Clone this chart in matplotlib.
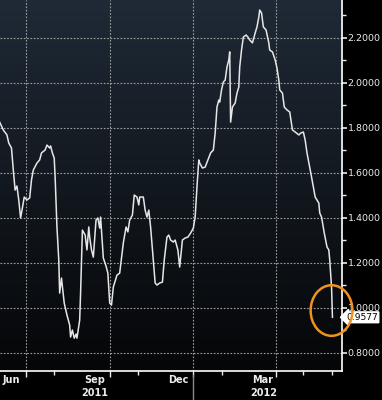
import numpy as np
import pandas as pd
import matplotlib
matplotlib.use("Agg")
import matplotlib.pyplot as plt
import matplotlib.dates as mdates
from matplotlib.patches import Ellipse
from matplotlib.transforms import blended_transform_factory

# price series
dates = [
    "2011-06-02", "2011-06-06", "2011-06-10", "2011-06-12", "2011-06-15", "2011-06-17",
    "2011-06-19", "2011-06-21", "2011-06-23", "2011-06-25", "2011-06-27", "2011-06-29",
    "2011-07-02", "2011-07-05", "2011-07-07", "2011-07-09", "2011-07-13", "2011-07-16",
    "2011-07-18", "2011-07-22", "2011-07-24", "2011-07-27", "2011-07-28", "2011-07-30",
    "2011-08-01", "2011-08-02", "2011-08-04", "2011-08-06", "2011-08-07", "2011-08-09",
    "2011-08-12", "2011-08-15", "2011-08-18", "2011-08-19", "2011-08-21", "2011-08-23",
    "2011-08-25", "2011-08-26", "2011-08-29", "2011-08-30", "2011-08-31", "2011-09-01",
    "2011-09-04", "2011-09-06", "2011-09-08", "2011-09-09", "2011-09-11", "2011-09-13",
    "2011-09-16", "2011-09-18", "2011-09-20", "2011-09-21", "2011-09-24", "2011-09-27",
    "2011-09-29", "2011-10-01", "2011-10-03", "2011-10-05", "2011-10-09", "2011-10-12",
    "2011-10-14", "2011-10-16", "2011-10-19", "2011-10-21", "2011-10-23", "2011-10-26",
    "2011-10-28", "2011-10-31", "2011-11-02", "2011-11-03", "2011-11-07", "2011-11-09",
    "2011-11-11", "2011-11-13", "2011-11-15", "2011-11-18", "2011-11-20", "2011-11-22",
    "2011-11-25", "2011-11-28", "2011-11-30", "2011-12-03", "2011-12-05", "2011-12-07",
    "2011-12-10", "2011-12-12", "2011-12-15", "2011-12-17", "2011-12-20", "2011-12-23",
    "2011-12-26", "2011-12-29", "2012-01-01", "2012-01-03", "2012-01-05", "2012-01-07",
    "2012-01-08", "2012-01-11", "2012-01-14", "2012-01-17", "2012-01-20", "2012-01-23",
    "2012-01-25", "2012-01-27", "2012-01-29", "2012-01-30", "2012-02-01", "2012-02-03",
    "2012-02-05", "2012-02-07", "2012-02-09", "2012-02-10", "2012-02-11", "2012-02-13",
    "2012-02-16", "2012-02-18", "2012-02-20", "2012-02-21", "2012-02-23", "2012-02-25",
    "2012-02-28", "2012-03-01", "2012-03-03", "2012-03-06", "2012-03-09", "2012-03-11",
    "2012-03-13", "2012-03-14", "2012-03-16", "2012-03-18", "2012-03-21", "2012-03-24",
    "2012-03-25", "2012-03-28", "2012-03-31", "2012-04-02", "2012-04-04", "2012-04-05",
    "2012-04-08", "2012-04-10", "2012-04-13", "2012-04-16", "2012-04-19", "2012-04-22",
    "2012-04-26", "2012-04-28", "2012-05-01", "2012-05-03", "2012-05-05", "2012-05-08",
    "2012-05-10", "2012-05-12", "2012-05-14", "2012-05-18", "2012-05-19", "2012-05-21",
    "2012-05-24", "2012-05-27", "2012-05-29", "2012-05-30", "2012-06-01", "2012-06-02",
]
values = [
    1.825, 1.790, 1.768, 1.732, 1.710, 1.612,
    1.523, 1.541, 1.479, 1.399, 1.443, 1.492,
    1.479, 1.488, 1.568, 1.612, 1.643, 1.657,
    1.688, 1.701, 1.723, 1.710, 1.719, 1.688,
    1.665, 1.581, 1.359, 1.212, 1.065, 1.132,
    1.021, 0.968, 0.923, 0.870, 0.901, 0.865,
    0.883, 0.865, 0.945, 1.065, 1.212, 1.345,
    1.323, 1.257, 1.359, 1.314, 1.257, 1.225,
    1.390, 1.399, 1.354, 1.403, 1.221, 1.185,
    1.154, 1.021, 1.012, 1.092, 1.145, 1.154,
    1.221, 1.288, 1.359, 1.337, 1.390, 1.412,
    1.501, 1.492, 1.457, 1.492, 1.492, 1.434,
    1.403, 1.434, 1.359, 1.212, 1.110, 1.101,
    1.110, 1.114, 1.212, 1.314, 1.323, 1.301,
    1.292, 1.301, 1.257, 1.181, 1.301, 1.310,
    1.314, 1.332, 1.354, 1.403, 1.537, 1.657,
    1.643, 1.621, 1.625, 1.657, 1.688, 1.701,
    1.776, 1.892, 1.923, 1.914, 1.968, 2.003,
    2.012, 2.070, 2.101, 2.137, 1.825, 1.892,
    1.910, 1.954, 1.981, 2.070, 2.145, 2.203,
    2.212, 2.203, 2.190, 2.177, 2.221, 2.248,
    2.292, 2.323, 2.310, 2.248, 2.234, 2.177,
    2.145, 2.137, 2.101, 2.065, 2.012, 1.968,
    1.954, 1.892, 1.879, 1.870, 1.790, 1.781,
    1.768, 1.776, 1.781, 1.745, 1.688, 1.625,
    1.581, 1.537, 1.492, 1.465, 1.421, 1.403,
    1.332, 1.270, 1.257, 1.212, 1.092, 0.9577,
]
last_label = "0.9577"

y_ticks = [0.8, 1.0, 1.2, 1.4, 1.6, 1.8, 2.0, 2.2]
y_minor = [0.9, 1.1, 1.3, 1.5, 1.7, 1.9, 2.1, 2.3]
grid_dates = ["2011-07-01", "2011-10-01", "2012-01-01", "2012-04-01"]
minor_dates = ["2011-08-01", "2011-11-01", "2012-02-01", "2012-05-01", "2012-06-01"]
month_labels = ["Jun", "Sep", "Dec", "Mar"]
month_label_dates = ["2011-06-15", "2011-09-15", "2011-12-16", "2012-03-17"]
year_labels = ["2011", "2012"]
year_label_dates = ["2011-09-15", "2012-03-18"]
year_split = "2012-01-01"

dt = pd.to_datetime(dates)
fg = "#ececec"

fig = plt.figure(figsize=(3.82, 4.0), dpi=100, facecolor="black")
ax = fig.add_axes([0.0, 0.0725, 0.8953, 0.9275])
ax.set_facecolor("black")

# dark blue-to-black gradient background
top = np.array([31, 42, 54]) / 255.0
bot = np.array([5, 6, 8]) / 255.0
t = np.linspace(0, 1, 256)[:, None]
grad = (top[None, :] * (1 - t) + bot[None, :] * t)[:, None, :]
ax.imshow(grad, extent=[0, 1, 0, 1], transform=ax.transAxes, aspect="auto", zorder=0)

ax.plot(dt, values, color="#e6e6e6", lw=1.1, zorder=3)

ax.set_xlim(pd.Timestamp("2011-06-02 09:00"), pd.Timestamp("2012-06-12 12:00"))
ax.set_ylim(0.719, 2.3676)

# grid
for g in grid_dates:
    ax.axvline(pd.Timestamp(g), color="#a0a0a0", lw=0.8, ls=(0, (1.5, 1.5)), zorder=1)
for v in y_ticks:
    ax.axhline(v, color="#a0a0a0", lw=0.8, ls=(0, (1.5, 1.5)), zorder=1)

# spines
for s in ["top", "left"]:
    ax.spines[s].set_visible(False)
ax.spines["right"].set_color("white")
ax.spines["bottom"].set_color("white")
ax.spines["right"].set_linewidth(1.2)
ax.spines["bottom"].set_linewidth(1.2)

# y axis on the right
ax.yaxis.tick_right()
ax.set_yticks(y_ticks)
ax.set_yticks(y_minor, minor=True)
ax.set_yticklabels([f"{v:.4f}" for v in y_ticks])
ax.tick_params(axis="y", which="major", colors=fg, length=3.5, width=1.2, pad=0.5, labelsize=6.8)
ax.tick_params(axis="y", which="minor", colors=fg, length=3, width=1)

# x axis ticks
ax.set_xticks(pd.to_datetime(grid_dates))
ax.set_xticks(pd.to_datetime(minor_dates), minor=True)
ax.set_xticklabels([])
ax.tick_params(axis="x", which="major", colors=fg, length=4, width=1)
ax.tick_params(axis="x", which="minor", colors=fg, length=3, width=1)

tr = blended_transform_factory(ax.transData, ax.transAxes)
for lab, d in zip(month_labels, month_label_dates):
    ax.text(pd.Timestamp(d), -0.012, lab, transform=tr, ha="center", va="top",
            color=fg, fontsize=7, fontweight="bold")
for lab, d in zip(year_labels, year_label_dates):
    ax.text(pd.Timestamp(d), -0.046, lab, transform=tr, ha="center", va="top",
            color=fg, fontsize=7, fontweight="bold")
ax.plot([pd.Timestamp(year_split)] * 2, [-0.011, -0.08], transform=tr,
        color="#8a8a8a", lw=1, clip_on=False)

# last value tag
ty = blended_transform_factory(ax.transAxes, ax.transData)
ax.text(1.012, values[-1], last_label, transform=ty, ha="left", va="center",
        color="black", fontsize=6.6,
        bbox=dict(boxstyle="larrow,pad=0.1", fc="white", ec="white"))

# orange highlight circle around the last point
cx = mdates.date2num(dt[-1]) - 1
ax.add_patch(Ellipse((cx, values[-1] + 0.03), 46, 0.225, fill=False,
                     ec="#f0921e", lw=1.8, clip_on=False, zorder=5))

fig.savefig("out.png", dpi=100, facecolor="black")
